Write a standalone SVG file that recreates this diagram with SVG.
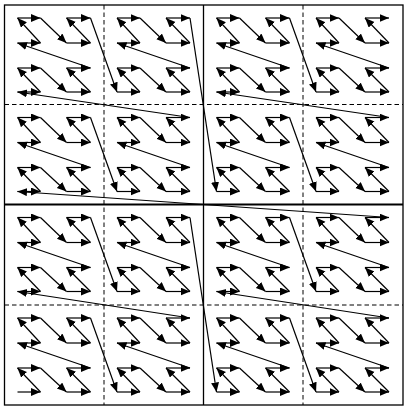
<svg xmlns="http://www.w3.org/2000/svg" xmlns:xlink="http://www.w3.org/1999/xlink" width="407" height="409" viewBox="0 0 407 409">
<style>
.seg{stroke:#000;stroke-width:1.2;fill:none;marker-end:url(#ah)}
.dash{stroke:#000;stroke-width:1;stroke-dasharray:4.5 3;fill:none}
.solid{stroke:#000;stroke-width:1.3;fill:none}
</style>
<defs>
<marker id="ah" markerUnits="userSpaceOnUse" markerWidth="11" markerHeight="9" refX="9.5" refY="4" orient="auto">
<path d="M0,0 L9.5,4 L0,8 z" fill="#000"/>
</marker>
<g id="cellPattern">
<line class="seg" x1="13" y1="87" x2="36" y2="87"/>
<line class="seg" x1="36" y1="87" x2="13" y2="63"/>
<line class="seg" x1="13" y1="63" x2="36" y2="63"/>
<line class="seg" x1="36" y1="63" x2="62" y2="87"/>
<line class="seg" x1="62" y1="87" x2="86" y2="87"/>
<line class="seg" x1="86" y1="87" x2="62" y2="63"/>
<line class="seg" x1="62" y1="63" x2="86" y2="63"/>
<line class="seg" x1="86" y1="63" x2="13" y2="38"/>
<line class="seg" x1="13" y1="38" x2="36" y2="38"/>
<line class="seg" x1="36" y1="38" x2="13" y2="13"/>
<line class="seg" x1="13" y1="13" x2="36" y2="13"/>
<line class="seg" x1="36" y1="13" x2="62" y2="38"/>
<line class="seg" x1="62" y1="38" x2="86" y2="38"/>
<line class="seg" x1="86" y1="38" x2="62" y2="13"/>
<line class="seg" x1="62" y1="13" x2="86" y2="13"/>
</g>
</defs>
<rect width="407" height="409" fill="#fff"/>
<g id="grid">
<line class="dash" x1="104" y1="5" x2="104" y2="405"/>
<line class="dash" x1="303" y1="5" x2="303" y2="405"/>
<line class="dash" x1="4.5" y1="104.5" x2="403" y2="104.5"/>
<line class="dash" x1="4.5" y1="305" x2="403" y2="305"/>
<line class="solid" x1="203.5" y1="5" x2="203.5" y2="405"/>
<line class="solid" x1="4.5" y1="204.5" x2="403" y2="204.5" style="stroke-width:2.2"/>
<rect class="solid" x="4.5" y="5" width="398.5" height="400"/>
</g>
<g id="cell-0"><use xlink:href="#cellPattern" href="#cellPattern" transform="translate(4.5,305)"/></g>
<g id="cell-1"><use xlink:href="#cellPattern" href="#cellPattern" transform="translate(104,305)"/></g>
<g id="cell-2"><use xlink:href="#cellPattern" href="#cellPattern" transform="translate(4.5,204.5)"/></g>
<g id="cell-3"><use xlink:href="#cellPattern" href="#cellPattern" transform="translate(104,204.5)"/></g>
<g id="cell-4"><use xlink:href="#cellPattern" href="#cellPattern" transform="translate(203.5,305)"/></g>
<g id="cell-5"><use xlink:href="#cellPattern" href="#cellPattern" transform="translate(303,305)"/></g>
<g id="cell-6"><use xlink:href="#cellPattern" href="#cellPattern" transform="translate(203.5,204.5)"/></g>
<g id="cell-7"><use xlink:href="#cellPattern" href="#cellPattern" transform="translate(303,204.5)"/></g>
<g id="cell-8"><use xlink:href="#cellPattern" href="#cellPattern" transform="translate(4.5,104.5)"/></g>
<g id="cell-9"><use xlink:href="#cellPattern" href="#cellPattern" transform="translate(104,104.5)"/></g>
<g id="cell-10"><use xlink:href="#cellPattern" href="#cellPattern" transform="translate(4.5,5)"/></g>
<g id="cell-11"><use xlink:href="#cellPattern" href="#cellPattern" transform="translate(104,5)"/></g>
<g id="cell-12"><use xlink:href="#cellPattern" href="#cellPattern" transform="translate(203.5,104.5)"/></g>
<g id="cell-13"><use xlink:href="#cellPattern" href="#cellPattern" transform="translate(303,104.5)"/></g>
<g id="cell-14"><use xlink:href="#cellPattern" href="#cellPattern" transform="translate(203.5,5)"/></g>
<g id="cell-15"><use xlink:href="#cellPattern" href="#cellPattern" transform="translate(303,5)"/></g>
<g id="connectors">
<line class="seg" x1="90.5" y1="318" x2="117" y2="392"/>
<line class="seg" x1="190" y1="318" x2="17.5" y2="291.5"/>
<line class="seg" x1="90.5" y1="217.5" x2="117" y2="291.5"/>
<line class="seg" x1="190" y1="217.5" x2="216.5" y2="392"/>
<line class="seg" x1="289.5" y1="318" x2="316" y2="392"/>
<line class="seg" x1="389" y1="318" x2="216.5" y2="291.5"/>
<line class="seg" x1="289.5" y1="217.5" x2="316" y2="291.5"/>
<line class="seg" x1="389" y1="217.5" x2="17.5" y2="191.5"/>
<line class="seg" x1="90.5" y1="117.5" x2="117" y2="191.5"/>
<line class="seg" x1="190" y1="117.5" x2="17.5" y2="92"/>
<line class="seg" x1="90.5" y1="18" x2="117" y2="92"/>
<line class="seg" x1="190" y1="18" x2="216.5" y2="191.5"/>
<line class="seg" x1="289.5" y1="117.5" x2="316" y2="191.5"/>
<line class="seg" x1="389" y1="117.5" x2="216.5" y2="92"/>
<line class="seg" x1="289.5" y1="18" x2="316" y2="92"/>
</g>
</svg>
